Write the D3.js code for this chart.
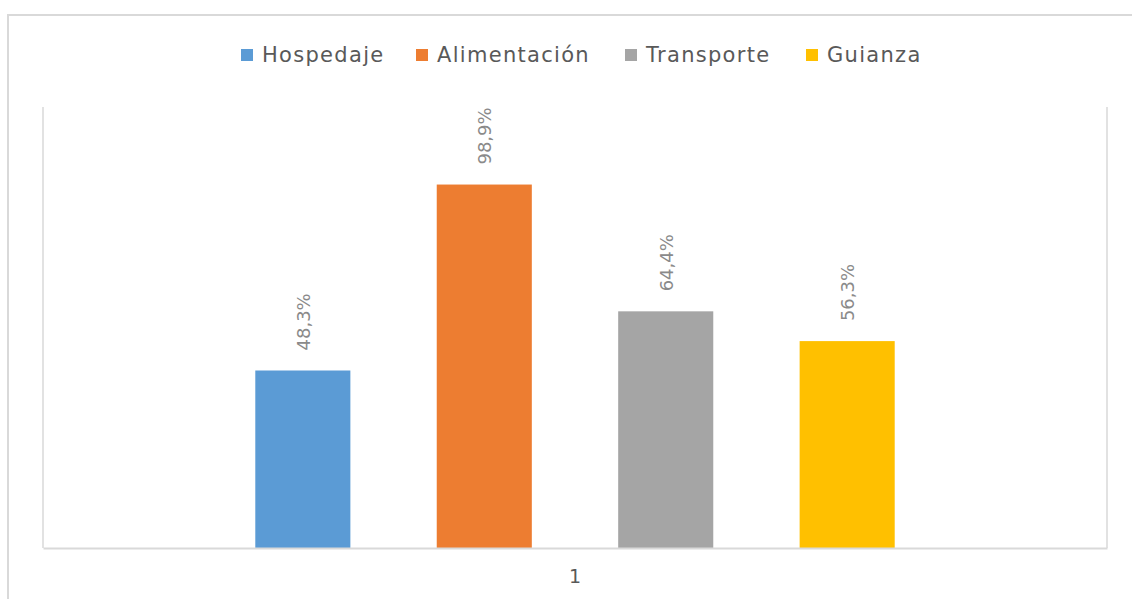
<!DOCTYPE html>
<html>
<head>
<meta charset="utf-8">
<script src="https://cdn.jsdelivr.net/npm/d3@7"></script>
<style>
  body { margin: 0; background: #fff; }
  text { font-family: "DejaVu Sans", sans-serif; }
</style>
</head>
<body>
<script>
// chart data
var categories = ["1"];
var series = ["Hospedaje", "Alimentación", "Transporte", "Guianza"];
var values = [48.3, 98.9, 64.4, 56.3];
var colors = ["#5b9bd5", "#ed7d31", "#a5a5a5", "#ffc000"];
var yMax = 120;

var w = 1132, h = 599;
var plot = {left: 43, right: 1107, top: 107, bottom: 548};

var svg = d3.select("body").append("svg")
    .attr("width", w)
    .attr("height", h);

// outer chart border (only top and left are in view)
svg.append("path")
    .attr("d", "M8,600 L8,15 L1132,15")
    .attr("fill", "none")
    .attr("stroke", "#d9d9d9")
    .attr("stroke-width", 2);

var x0 = d3.scaleBand()
    .domain(categories)
    .range([plot.left, plot.right]);

var x1 = d3.scaleBand()
    .domain(series)
    .range([0, x0.bandwidth()])
    .paddingInner(0.476)
    .paddingOuter(1.17);

var y = d3.scaleLinear()
    .domain([0, yMax])
    .range([plot.bottom, plot.top]);

// plot area side lines
svg.append("g").selectAll("line")
    .data([plot.left, plot.right])
    .join("line")
    .attr("x1", function(d){ return d; })
    .attr("x2", function(d){ return d; })
    .attr("y1", plot.top)
    .attr("y2", plot.bottom)
    .attr("stroke", "#d9d9d9")
    .attr("stroke-width", 1.5);

// bars
var group = svg.append("g")
    .attr("transform", "translate(" + x0("1") + ",0)");

group.selectAll("rect")
    .data(series)
    .join("rect")
    .attr("x", function(d){ return x1(d); })
    .attr("width", x1.bandwidth())
    .attr("y", function(d, i){ return y(values[i]); })
    .attr("height", function(d, i){ return plot.bottom - y(values[i]); })
    .attr("fill", function(d, i){ return colors[i]; });

// rotated data labels
group.selectAll("text.lbl")
    .data(series)
    .join("text")
    .attr("class", "lbl")
    .attr("transform", function(d, i){
        return "translate(" + (x1(d) + x1.bandwidth() / 2 + 7) + "," + (y(values[i]) - 20) + ") rotate(-90)";
    })
    .attr("font-size", 18)
    .attr("fill", "#8a8a8a")
    .text(function(d, i){ return d3.format(".1f")(values[i]).replace(".", ",") + "%"; });

// x axis
var xAxis = svg.append("g")
    .attr("transform", "translate(0," + plot.bottom + ")")
    .call(d3.axisBottom(x0).tickSize(0).tickPadding(22));
xAxis.select(".domain")
    .attr("stroke", "#d9d9d9")
    .attr("stroke-width", 2);
xAxis.selectAll("text")
    .attr("font-family", "DejaVu Sans, sans-serif")
    .attr("font-size", 19)
    .attr("fill", "#595959");

// legend
var legendX = [241, 416, 625, 806];
var legend = svg.append("g").selectAll("g")
    .data(series)
    .join("g")
    .attr("transform", function(d, i){ return "translate(" + legendX[i] + ",49)"; });
legend.append("rect")
    .attr("width", 12)
    .attr("height", 12)
    .attr("fill", function(d, i){ return colors[i]; });
legend.append("text")
    .attr("x", 21)
    .attr("y", 13)
    .attr("font-size", 21)
    .attr("letter-spacing", 1.3)
    .attr("fill", "#595959")
    .text(function(d){ return d; });
</script>
</body>
</html>
